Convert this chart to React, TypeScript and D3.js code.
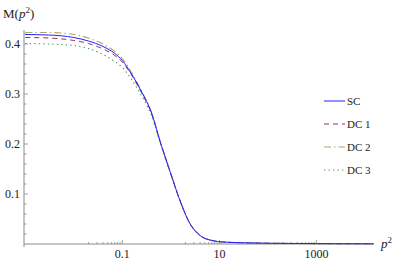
import React, { useEffect, useRef } from 'react';
import * as d3 from 'd3';

// momentum grid p^2 (log scale)
const p2 = [0.001, 0.003, 0.01, 0.02, 0.04, 0.07, 0.1, 0.15, 0.25, 0.4, 0.6, 1, 1.5, 2.5, 4, 7, 12, 30, 100, 1000, 15000];

const sc = [0.419, 0.418, 0.413, 0.406, 0.395, 0.381, 0.367, 0.342, 0.304, 0.262, 0.205, 0.140, 0.090, 0.040, 0.017, 0.007, 0.004, 0.0025, 0.0015, 0.0008, 0.0004];
const dc1 = [0.413, 0.412, 0.407, 0.401, 0.390, 0.377, 0.364, 0.340, 0.302, 0.261, 0.205, 0.140, 0.090, 0.040, 0.017, 0.007, 0.004, 0.0025, 0.0015, 0.0008, 0.0004];
const dc2 = [0.423, 0.423, 0.419, 0.412, 0.400, 0.385, 0.371, 0.345, 0.306, 0.263, 0.206, 0.141, 0.090, 0.040, 0.017, 0.007, 0.004, 0.0025, 0.0015, 0.0008, 0.0004];
const dc3 = [0.401, 0.400, 0.397, 0.391, 0.379, 0.365, 0.353, 0.331, 0.296, 0.257, 0.203, 0.139, 0.089, 0.040, 0.017, 0.007, 0.004, 0.0025, 0.0015, 0.0008, 0.0004];

const seriesNames = ['SC', 'DC 1', 'DC 2', 'DC 3'];
const yTicks = [0.1, 0.2, 0.3, 0.4];
const xTicks = [0.1, 10, 1000];

const App = () => {
    const ref = useRef<SVGSVGElement>(null);

    useEffect(() => {
        const svg = d3.select(ref.current);
        svg.selectAll('*').remove();

        const x = d3.scaleLog().domain([0.001, 15000]).range([25.3, 373.5]);
        const y = d3.scaleLinear().domain([0, 0.4]).range([244, 44]);
        const axisColor = '#8a8a8a';
        const font = '"Liberation Serif", "DejaVu Serif", serif';

        const styles = [
            { color: '#2222ff', dash: null, width: 1 },
            { color: '#9b2c6c', dash: '5,4', width: 1 },
            { color: '#b4a664', dash: '7,3,1.5,3', width: 1.1 },
            { color: '#3d9c5c', dash: '1.3,3.2', width: 1.1 },
        ];
        const allSeries = [sc, dc1, dc2, dc3];

        // axes
        svg.append('line').attr('x1', 24).attr('x2', 373.5).attr('y1', 244).attr('y2', 244)
            .attr('stroke', axisColor).attr('stroke-width', 1);
        svg.append('line').attr('x1', 24).attr('x2', 24).attr('y1', 30).attr('y2', 247)
            .attr('stroke', axisColor).attr('stroke-width', 1);

        // y ticks: major and minor
        const yMinor = d3.range(0.02, 0.43, 0.02);
        svg.append('g').selectAll('line').data(yMinor).enter().append('line')
            .attr('x1', 24).attr('x2', (d) => (Math.abs(d * 10 - Math.round(d * 10)) < 1e-6 ? 28 : 26.5))
            .attr('y1', (d) => y(d)).attr('y2', (d) => y(d))
            .attr('stroke', axisColor).attr('stroke-width', 0.8);
        svg.append('g').selectAll('text').data(yTicks).enter().append('text')
            .attr('x', 20).attr('y', (d) => y(d)).attr('dy', '0.35em')
            .attr('text-anchor', 'end')
            .style('font-family', font).style('font-size', '12px').attr('fill', '#222')
            .text((d) => d3.format('.1f')(d));

        // x ticks: minor in decades before each labeled one
        const xMinor: number[] = [];
        xTicks.forEach((t) => {
            for (let k = 2; k <= 9; k++) xMinor.push((t / 10) * k);
        });
        svg.append('g').selectAll('line').data(xMinor).enter().append('line')
            .attr('x1', (d) => x(d)).attr('x2', (d) => x(d))
            .attr('y1', 244).attr('y2', 242)
            .attr('stroke', axisColor).attr('stroke-width', 0.8);
        svg.append('g').selectAll('line').data(xTicks).enter().append('line')
            .attr('x1', (d) => x(d)).attr('x2', (d) => x(d))
            .attr('y1', 244).attr('y2', 240)
            .attr('stroke', axisColor).attr('stroke-width', 0.8);
        svg.append('g').selectAll('text').data(xTicks).enter().append('text')
            .attr('x', (d) => x(d)).attr('y', 258)
            .attr('text-anchor', 'middle')
            .style('font-family', font).style('font-size', '12px').attr('fill', '#222')
            .text((d) => (d < 1 ? d3.format('.1f')(d) : String(d)));

        // axis labels
        const yl = svg.append('text').attr('x', 3).attr('y', 18)
            .style('font-family', font).style('font-size', '13px').attr('fill', '#222');
        yl.append('tspan').text('M(');
        yl.append('tspan').style('font-style', 'italic').text('p');
        yl.append('tspan').attr('dy', -5).style('font-size', '9px').text('2');
        yl.append('tspan').attr('dy', 5).text(')');

        const xl = svg.append('text').attr('x', 381).attr('y', 248)
            .style('font-family', font).style('font-size', '13px').attr('fill', '#222');
        xl.append('tspan').style('font-style', 'italic').text('p');
        xl.append('tspan').attr('dy', -5).style('font-size', '9px').text('2');

        // curves
        const line = d3.line<number>()
            .x((_, i) => x(p2[i]))
            .y((d) => y(d))
            .curve(d3.curveMonotoneX);

        // draw DC series first then SC on top
        [3, 1, 2, 0].forEach((k) => {
            svg.append('path')
                .attr('d', line(allSeries[k]))
                .attr('fill', 'none')
                .attr('stroke', styles[k].color)
                .attr('stroke-width', styles[k].width)
                .attr('stroke-dasharray', styles[k].dash);
        });

        // legend
        const legend = svg.append('g').selectAll('g').data(seriesNames).enter().append('g')
            .attr('transform', (_, i) => `translate(324, ${101 + i * 23})`);
        legend.append('line')
            .attr('x1', 0).attr('x2', 21).attr('y1', 0).attr('y2', 0)
            .attr('stroke', (_, i) => styles[i].color)
            .attr('stroke-width', (_, i) => styles[i].width)
            .attr('stroke-dasharray', (_, i) => styles[i].dash);
        legend.append('text')
            .attr('x', 23).attr('y', 0).attr('dy', '0.35em')
            .style('font-family', font).style('font-size', '11px').attr('fill', '#222')
            .text((d) => d);
    });

    return (
        <svg ref={ref} width="399" height="264" style={{ position: 'absolute', left: 0, top: 0, background: '#fff' }}></svg>
    );
};

export default App;
